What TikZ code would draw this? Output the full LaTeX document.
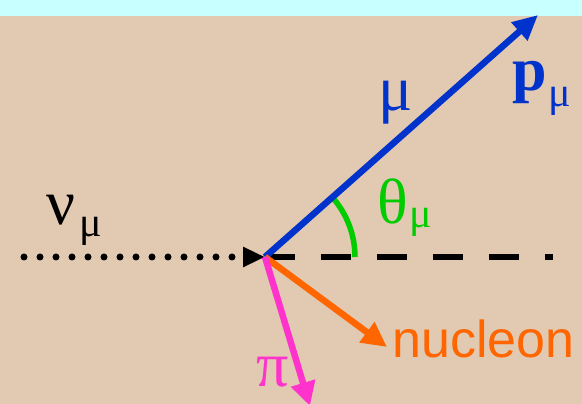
\documentclass[tikz,border=0pt]{standalone}
\usepackage{fontspec}
\setmainfont{Liberation Serif}
\newfontfamily\sansf{Liberation Sans}
\usetikzlibrary{arrows.meta}
\definecolor{bgbeige}{RGB}{226,201,178}
\definecolor{cyanbar}{RGB}{200,255,255}
\definecolor{mublue}{RGB}{0,51,204}
\definecolor{thgreen}{RGB}{0,204,0}
\definecolor{pipink}{RGB}{255,51,204}
\definecolor{nucorange}{RGB}{255,102,0}
\tikzset{
  lbl/.style={inner sep=0pt, anchor=base west},
  bigsym/.style={lbl, font=\fontsize{64}{64}\selectfont},
  subsym/.style={lbl, font=\fontsize{42}{42}\selectfont},
  track/.style={line width=6.5pt},
}
\begin{document}
\begin{tikzpicture}[x=1pt,y=1pt]
\useasboundingbox (0,0) rectangle (582,404);
\fill[bgbeige] (0,0) rectangle (582,388);
\fill[cyanbar] (0,388) rectangle (582,404);
% coordinates
\coordinate (v) at (265,147);
\coordinate (nustart) at (24,147);
\coordinate (dashend) at (553,147);
\coordinate (mutip) at (538,389);
\coordinate (nuctip) at (387,57);
\coordinate (pitip) at (310,-2);
% beam line and reference line
\draw[line width=5.5pt, dash pattern=on 30pt off 26pt] (v) -- (dashend);
\draw[line width=7pt, line cap=round, dash pattern=on 0pt off 16pt,
      -{Triangle[length=22pt,width=19pt,line cap=butt]}] (nustart) -- (v);
% angle arc
\draw[thgreen, line width=5.5pt] (v) ++(0:90) arc[start angle=0, end angle=41.5, radius=90];
% tracks
\draw[track, mublue, -{Triangle[length=25pt,width=23pt]}] (v) -- (mutip);
\draw[track, nucorange, -{Triangle[length=25pt,width=24pt]}] (v) -- (nuctip);
\draw[track, pipink, -{Triangle[length=24pt,width=24pt]}] (v) -- (pitip);
% labels
\node[bigsym] (nu) at (46,179) {ν};
\node[subsym] (nusub) at (79,167) {μ};
\node[bigsym, text=mublue] (mu) at (378,293) {μ};
\node[lbl, text=mublue, font=\fontsize{62}{62}\selectfont\bfseries] (p) at (512,313) {p};
\node[subsym, text=mublue] (psub) at (548,297) {μ};
\node[bigsym, text=thgreen] (th) at (377,180) {θ};
\node[subsym, text=thgreen] (thsub) at (409,176) {μ};
\node[bigsym, text=pipink] (pi) at (256,17) {π};
\node[lbl, text=nucorange, font=\sansf\fontsize{52}{52}\selectfont] (nuc) at (392,46) {nucleon};
\end{tikzpicture}
\end{document}
